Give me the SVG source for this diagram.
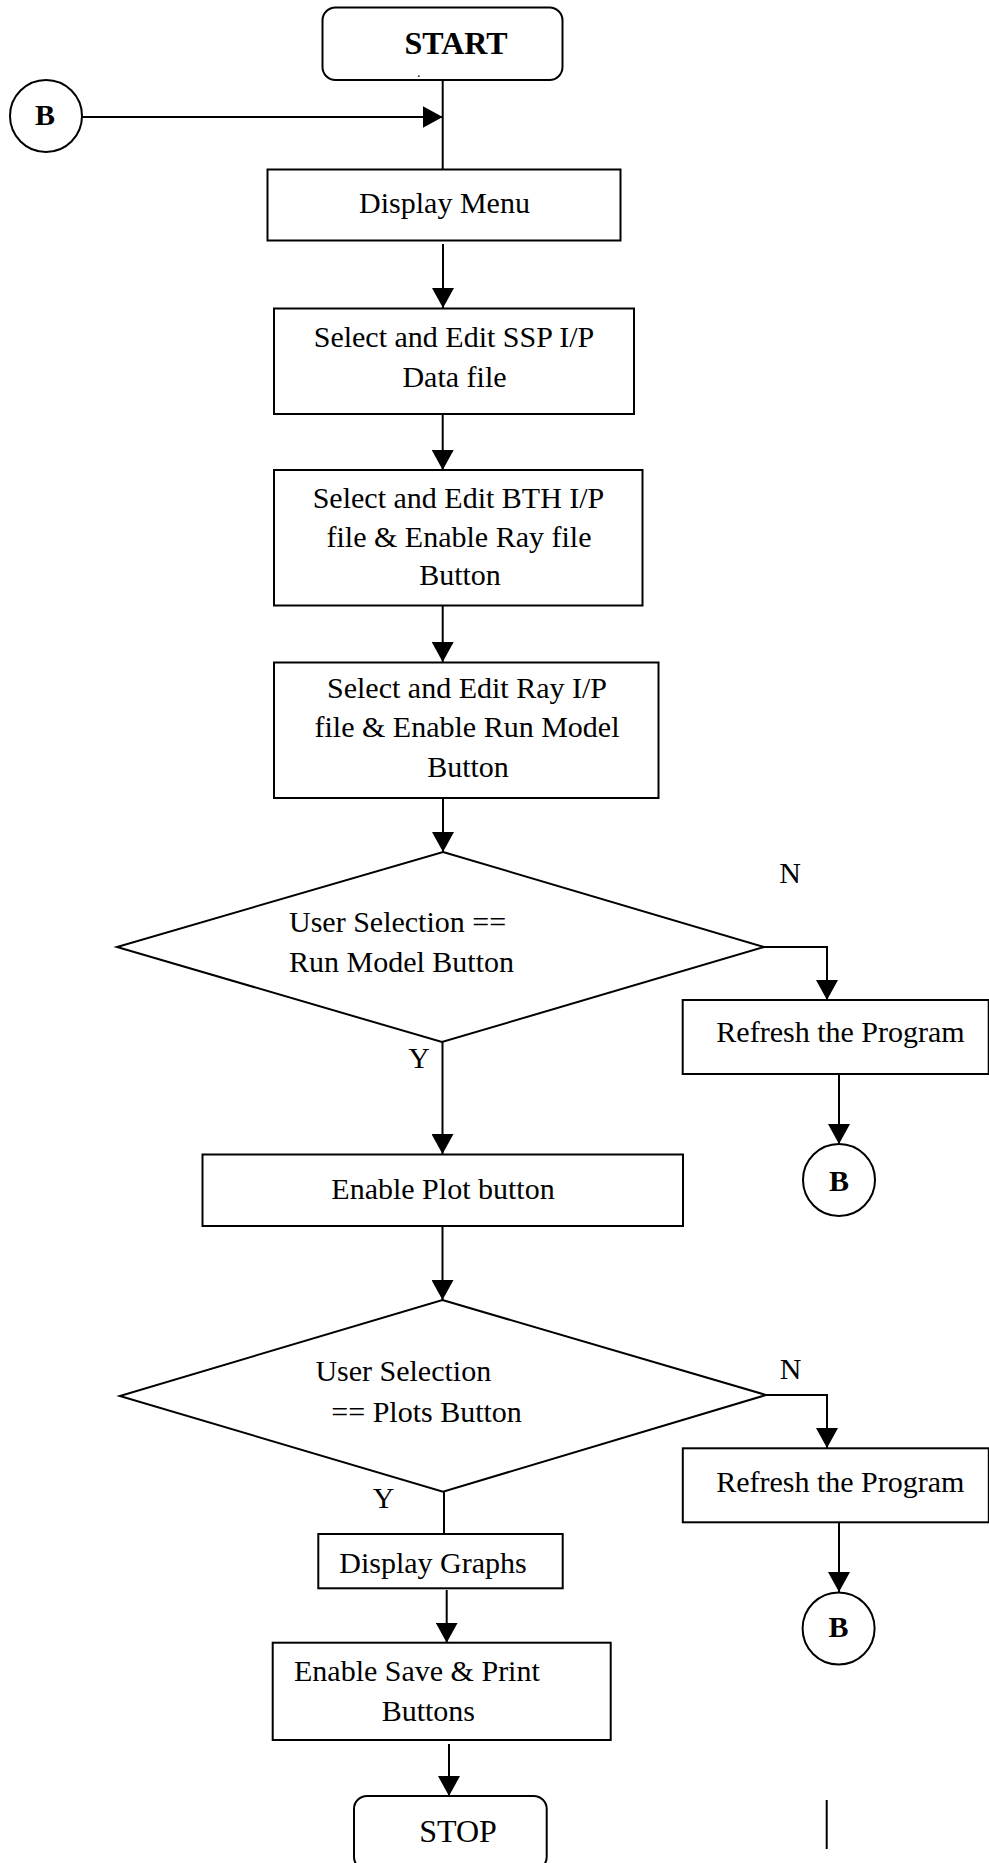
<svg xmlns="http://www.w3.org/2000/svg" width="989" height="1863" viewBox="0 0 989 1863">
<style>
.shape{fill:#fff;stroke:#000;stroke-width:2}
.conn{fill:none;stroke:#000;stroke-width:2}
.t{font-family:"Liberation Serif","Times New Roman",serif;font-size:30px;fill:#000}
.c{text-anchor:middle}
.b{font-weight:bold}
</style>
<defs>
<marker id="ah" markerUnits="userSpaceOnUse" markerWidth="20" markerHeight="22" refX="20" refY="11" orient="auto">
<path d="M0,0 L20,11 L0,22 z" fill="#000"/>
</marker>
</defs>
<rect width="989" height="1863" fill="#fff"/>
<g id="connectors">
<path class="conn" d="M82,117 H442.7" marker-end="url(#ah)"/>
<path class="conn" d="M442.7,77 V169"/>
<path class="conn" d="M443,244 V308" marker-end="url(#ah)"/>
<path class="conn" d="M442.7,412 V470" marker-end="url(#ah)"/>
<path class="conn" d="M442.7,603 V662" marker-end="url(#ah)"/>
<path class="conn" d="M443,798 V852" marker-end="url(#ah)"/>
<path class="conn" d="M764,947 H827 V1000" marker-end="url(#ah)"/>
<path class="conn" d="M839,1074 V1144" marker-end="url(#ah)"/>
<path class="conn" d="M442.5,1037 V1154" marker-end="url(#ah)"/>
<path class="conn" d="M442.5,1226 V1300" marker-end="url(#ah)"/>
<path class="conn" d="M766,1395 H827 V1448" marker-end="url(#ah)"/>
<path class="conn" d="M839,1520 V1592" marker-end="url(#ah)"/>
<path class="conn" d="M444,1486 V1534"/>
<path class="conn" d="M446.7,1590 V1642.7" marker-end="url(#ah)"/>
<path class="conn" d="M449,1744 V1796" marker-end="url(#ah)"/>
<path class="conn" d="M826.7,1800 V1849"/>
</g>
<g id="start">
<rect class="shape" x="322.5" y="7.5" width="240" height="72.5" rx="13"/>
<text class="t b c" x="456" y="53.5" style="font-size:32px">START</text>
<text class="t" x="417" y="77" style="font-size:14px">.</text>
</g>
<g id="b-in">
<circle class="shape" cx="46" cy="116" r="36"/>
<text class="t b c" x="45" y="125">B</text>
</g>
<g id="display-menu">
<rect class="shape" x="267.5" y="169.5" width="353" height="71"/>
<text class="t c" x="444.5" y="213">Display Menu</text>
</g>
<g id="ssp">
<rect class="shape" x="274" y="308.5" width="360" height="105.5"/>
<text class="t c" x="454" y="346.5">Select and Edit SSP I/P</text>
<text class="t c" x="454.5" y="387">Data file</text>
</g>
<g id="bth">
<rect class="shape" x="274" y="470" width="368.5" height="135.5"/>
<text class="t c" x="458.5" y="507.5">Select and Edit BTH I/P</text>
<text class="t c" x="459" y="546.5">file &amp; Enable Ray file</text>
<text class="t c" x="460" y="585">Button</text>
</g>
<g id="ray">
<rect class="shape" x="274" y="662.5" width="384.5" height="135.5"/>
<text class="t c" x="467" y="698">Select and Edit Ray I/P</text>
<text class="t c" x="467" y="736.5">file &amp; Enable Run Model</text>
<text class="t c" x="468" y="776.5">Button</text>
</g>
<g id="decision-run">
<polygon class="shape" points="443,852 764,947 442,1042 117,947"/>
<text class="t" x="289" y="931.5">User Selection ==</text>
<text class="t" x="289" y="971.5">Run Model Button</text>
</g>
<g id="label-n1"><text class="t c" x="790" y="883">N</text></g>
<g id="label-y1"><text class="t c" x="419" y="1067.5">Y</text></g>
<g id="refresh1">
<rect class="shape" x="682.7" y="1000" width="306" height="74"/>
<text class="t c" x="840.5" y="1042">Refresh the Program</text>
</g>
<g id="b-out1">
<circle class="shape" cx="839" cy="1180" r="36"/>
<text class="t b c" x="839" y="1190.5">B</text>
</g>
<g id="enable-plot">
<rect class="shape" x="202.5" y="1154.5" width="480.5" height="71.5"/>
<text class="t c" x="443" y="1199">Enable Plot button</text>
</g>
<g id="decision-plots">
<polygon class="shape" points="442.4,1300 766,1395 443,1491.7 119.8,1396"/>
<text class="t" x="315.4" y="1381">User Selection</text>
<text class="t" x="331.3" y="1421.5">== Plots Button</text>
</g>
<g id="label-n2"><text class="t c" x="790.6" y="1379">N</text></g>
<g id="label-y2"><text class="t c" x="383.7" y="1508">Y</text></g>
<g id="refresh2">
<rect class="shape" x="682.8" y="1448.3" width="306" height="74"/>
<text class="t c" x="840.3" y="1491.7">Refresh the Program</text>
</g>
<g id="b-out2">
<circle class="shape" cx="838.6" cy="1628.5" r="36"/>
<text class="t b c" x="838.6" y="1637">B</text>
</g>
<g id="display-graphs">
<rect class="shape" x="318.3" y="1534" width="244.4" height="54.3"/>
<text class="t" x="339.3" y="1573.3">Display Graphs</text>
</g>
<g id="enable-save">
<rect class="shape" x="272.7" y="1642.7" width="338" height="97.3"/>
<text class="t" x="294" y="1681">Enable Save &amp; Print</text>
<text class="t" x="381.7" y="1721">Buttons</text>
</g>
<g id="stop">
<rect class="shape" x="354" y="1796" width="192.7" height="74" rx="13"/>
<text class="t c" x="458" y="1842" style="font-size:32px">STOP</text>
</g>
</svg>
